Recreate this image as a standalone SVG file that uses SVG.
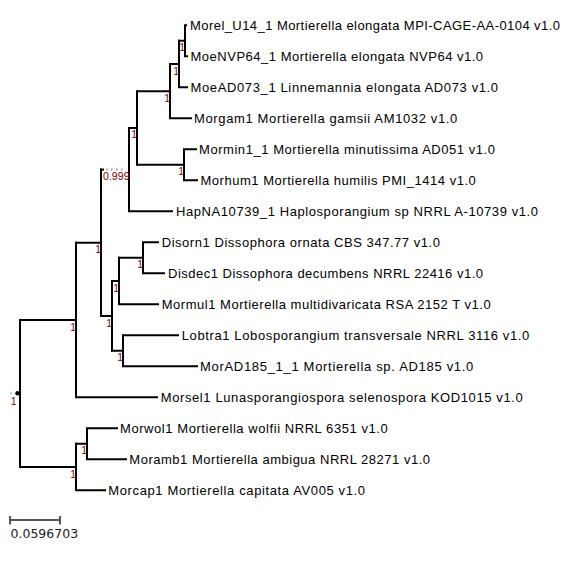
<svg xmlns="http://www.w3.org/2000/svg" width="576" height="566" viewBox="0 0 576 566">
<style>
.br{fill:none;stroke:#000;stroke-width:2;stroke-linecap:square}
.lf{font-family:"Liberation Sans",Arial,sans-serif;font-size:13px;fill:#000}
.sp{font-family:"Liberation Sans",Arial,sans-serif;font-size:10.5px;fill:#800000;text-anchor:end}
.sc{font-family:"DejaVu Sans",sans-serif;font-size:12.5px;fill:#222}
</style>
<rect width="576" height="566" fill="#fff"/>
<g id="connectors">
<path class="br" d="M20,320V467"/>
<path class="br" d="M20,320H76M76,242.8V397.3M76,397.3H157"/>
<path class="br" d="M76,242.8H101M101,169.6V315.9"/>
<path class="br" d="M101,169.6H103"/>
<path d="M106,169.6H124" fill="none" stroke="#999" stroke-width="2" stroke-dasharray="1.5 3.5"/>
<path class="br" d="M129,128V211.3M129,211.3H172"/>
<path class="br" d="M129,128H137M137,91.2V164.8"/>
<path class="br" d="M137,91.2H170M170,64V118.3M170,118.3H191"/>
<path class="br" d="M170,64H179M179,40.8V87.3M179,87.3H187"/>
<path class="br" d="M179,40.8H185M185,25.3V56.3M185,25.3H186M185,56.3H187"/>
<path class="br" d="M137,164.8H184M184,149.3V180.3M184,149.3H196M184,180.3H197"/>
<path class="br" d="M101,315.9H112M112,281V350.8"/>
<path class="br" d="M112,281H119M119,257.8V304.3M119,304.3H158"/>
<path class="br" d="M119,257.8H143M143,242.3V273.3M143,242.3H158M143,273.3H164"/>
<path class="br" d="M112,350.8H123M123,335.3V366.3M123,335.3H178M123,366.3H197"/>
<path class="br" d="M20,467H76M76,443.8V490.3M76,490.3H105"/>
<path class="br" d="M76,443.8H87M87,428.3V459.3M87,428.3H117M87,459.3H126"/>
</g>
<g id="root">
<circle cx="11" cy="393.3" r="1" fill="#aaa"/>
<circle cx="17.5" cy="393.3" r="2.2" fill="#000"/>
<text class="sp" x="16.5" y="405">1</text>
</g>
<g id="supports">
<text class="sp" x="185" y="51.3">1</text>
<text class="sp" x="179" y="74.5">1</text>
<text class="sp" x="170" y="101.5">1</text>
<text class="sp" x="184" y="175.3">1</text>
<text class="sp" x="137" y="138.3">1</text>
<text class="sp" x="129.5" y="180" textLength="26.5">0.999</text>
<text class="sp" x="101" y="253.3">1</text>
<text class="sp" x="143" y="268.3">1</text>
<text class="sp" x="119" y="291.5">1</text>
<text class="sp" x="112" y="326.5">1</text>
<text class="sp" x="123" y="361.3">1</text>
<text class="sp" x="76" y="330.5">1</text>
<text class="sp" x="87" y="454.3">1</text>
<text class="sp" x="76" y="477.5">1</text>
</g>
<g id="leaf-Morel"><text class="lf" x="190" y="29.9" textLength="370" lengthAdjust="spacing">Morel_U14_1 Mortierella elongata MPI-CAGE-AA-0104 v1.0</text></g>
<g id="leaf-MoeNVP64"><text class="lf" x="190.5" y="60.9" textLength="292.6" lengthAdjust="spacing">MoeNVP64_1 Mortierella elongata NVP64 v1.0</text></g>
<g id="leaf-MoeAD073"><text class="lf" x="190.5" y="91.9" textLength="307.6" lengthAdjust="spacing">MoeAD073_1 Linnemannia elongata AD073 v1.0</text></g>
<g id="leaf-Morgam1"><text class="lf" x="194" y="122.9" textLength="263.3" lengthAdjust="spacing">Morgam1 Mortierella gamsii AM1032 v1.0</text></g>
<g id="leaf-Mormin1"><text class="lf" x="199" y="153.9" textLength="296" lengthAdjust="spacing">Mormin1_1 Mortierella minutissima AD051 v1.0</text></g>
<g id="leaf-Morhum1"><text class="lf" x="200.5" y="184.9" textLength="275.3" lengthAdjust="spacing">Morhum1 Mortierella humilis PMI_1414 v1.0</text></g>
<g id="leaf-HapNA10739"><text class="lf" x="176" y="215.9" textLength="362" lengthAdjust="spacing">HapNA10739_1 Haplosporangium sp NRRL A-10739 v1.0</text></g>
<g id="leaf-Disorn1"><text class="lf" x="161.7" y="246.9" textLength="278.3" lengthAdjust="spacing">Disorn1 Dissophora ornata CBS 347.77 v1.0</text></g>
<g id="leaf-Disdec1"><text class="lf" x="168" y="277.9" textLength="315" lengthAdjust="spacing">Disdec1 Dissophora decumbens NRRL 22416 v1.0</text></g>
<g id="leaf-Mormul1"><text class="lf" x="161.7" y="308.9" textLength="329" lengthAdjust="spacing">Mormul1 Mortierella multidivaricata RSA 2152 T v1.0</text></g>
<g id="leaf-Lobtra1"><text class="lf" x="181.7" y="339.9" textLength="347.6" lengthAdjust="spacing">Lobtra1 Lobosporangium transversale NRRL 3116 v1.0</text></g>
<g id="leaf-MorAD185"><text class="lf" x="200" y="370.9" textLength="273.3" lengthAdjust="spacing">MorAD185_1_1 Mortierella sp. AD185 v1.0</text></g>
<g id="leaf-Morsel1"><text class="lf" x="160.7" y="401.9" textLength="362" lengthAdjust="spacing">Morsel1 Lunasporangiospora selenospora KOD1015 v1.0</text></g>
<g id="leaf-Morwol1"><text class="lf" x="120" y="432.9" textLength="267.7" lengthAdjust="spacing">Morwol1 Mortierella wolfii NRRL 6351 v1.0</text></g>
<g id="leaf-Moramb1"><text class="lf" x="129.3" y="463.9" textLength="300.7" lengthAdjust="spacing">Moramb1 Mortierella ambigua NRRL 28271 v1.0</text></g>
<g id="leaf-Morcap1"><text class="lf" x="108.3" y="494.9" textLength="256.7" lengthAdjust="spacing">Morcap1 Mortierella capitata AV005 v1.0</text></g>
<g id="scale">
<path d="M10,520H60M10,516V524.5M60,516V524.5" fill="none" stroke="#555" stroke-width="2"/>
<text class="sc" x="10.5" y="538.3">0.0596703</text>
</g>
</svg>
